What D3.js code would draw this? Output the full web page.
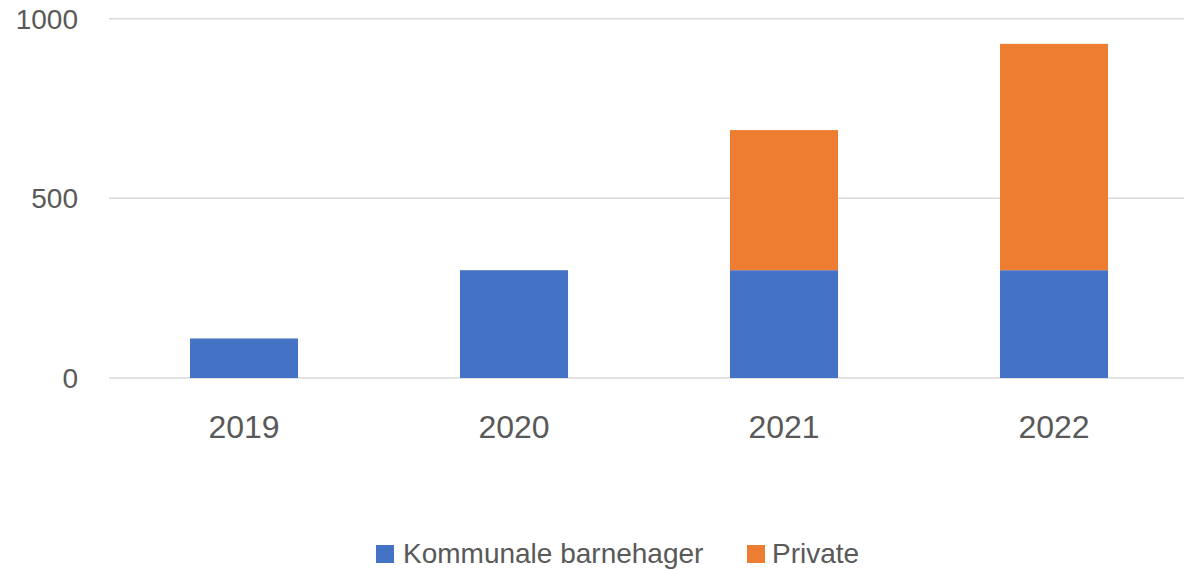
<!DOCTYPE html>
<html><head><meta charset="utf-8">
<script src="https://cdn.jsdelivr.net/npm/d3@7"></script>
<style>html,body{margin:0;padding:0;background:#fff;}svg{display:block;}</style>
</head><body>
<script>
const categories = ["2019","2020","2021","2022"];
const kommunale = [110, 300, 300, 300];
const privat = [0, 0, 390, 630];
const seriesNames = ["Kommunale barnehager","Private"];
const yTicks = [0, 500, 1000];

const W = 1184, H = 570;
const colors = ["#4472C4","#ED7D31"];
const font = "'Liberation Sans', Arial, sans-serif";
const svg = d3.select("body").append("svg").attr("width", W).attr("height", H);

const x = d3.scaleBand().domain(categories).range([109, 1189]).paddingInner(0.6).paddingOuter(0.3);
const y = d3.scaleLinear().domain([0, 1000]).range([378, 18.7]);

// gridlines
svg.append("g").selectAll("line").data(yTicks).join("line")
  .attr("x1", 109).attr("x2", 1184)
  .attr("y1", d => y(d)).attr("y2", d => y(d))
  .attr("stroke", "#D9D9D9").attr("stroke-width", 1.5);

// y labels
svg.append("g").selectAll("text").data(yTicks).join("text")
  .attr("x", 78).attr("y", d => y(d)).attr("dy", "0.36em")
  .attr("text-anchor", "end").attr("font-family", font).attr("font-size", 28)
  .attr("fill", "#595959").text(d => d);

const rows = categories.map((c, i) => ({cat: c, k: kommunale[i], p: privat[i]}));
const stack = d3.stack().keys(["k","p"])(rows);

svg.append("g").selectAll("g").data(stack).join("g")
  .attr("fill", (d, i) => colors[i])
  .selectAll("rect").data(d => d.filter(s => s[1] - s[0] > 0)).join("rect")
  .attr("x", d => x(d.data.cat)).attr("width", x.bandwidth())
  .attr("y", d => y(d[1])).attr("height", d => y(d[0]) - y(d[1]));

// x labels
svg.append("g").selectAll("text").data(categories).join("text")
  .attr("x", d => x(d) + x.bandwidth()/2).attr("y", 438)
  .attr("text-anchor", "middle").attr("font-family", font).attr("font-size", 32)
  .attr("fill", "#595959").text(d => d);

// legend
const leg = [{name: seriesNames[0], c: colors[0], sx: 376, tx: 403}, {name: seriesNames[1], c: colors[1], sx: 747, tx: 772}];
const lg = svg.append("g");
lg.selectAll("rect").data(leg).join("rect")
  .attr("x", d => d.sx).attr("y", 545).attr("width", 18).attr("height", 18).attr("fill", d => d.c);
lg.selectAll("text").data(leg).join("text")
  .attr("x", d => d.tx).attr("y", 563).attr("font-family", font).attr("font-size", 28)
  .attr("fill", "#595959").text(d => d.name);
</script>
</body></html>
